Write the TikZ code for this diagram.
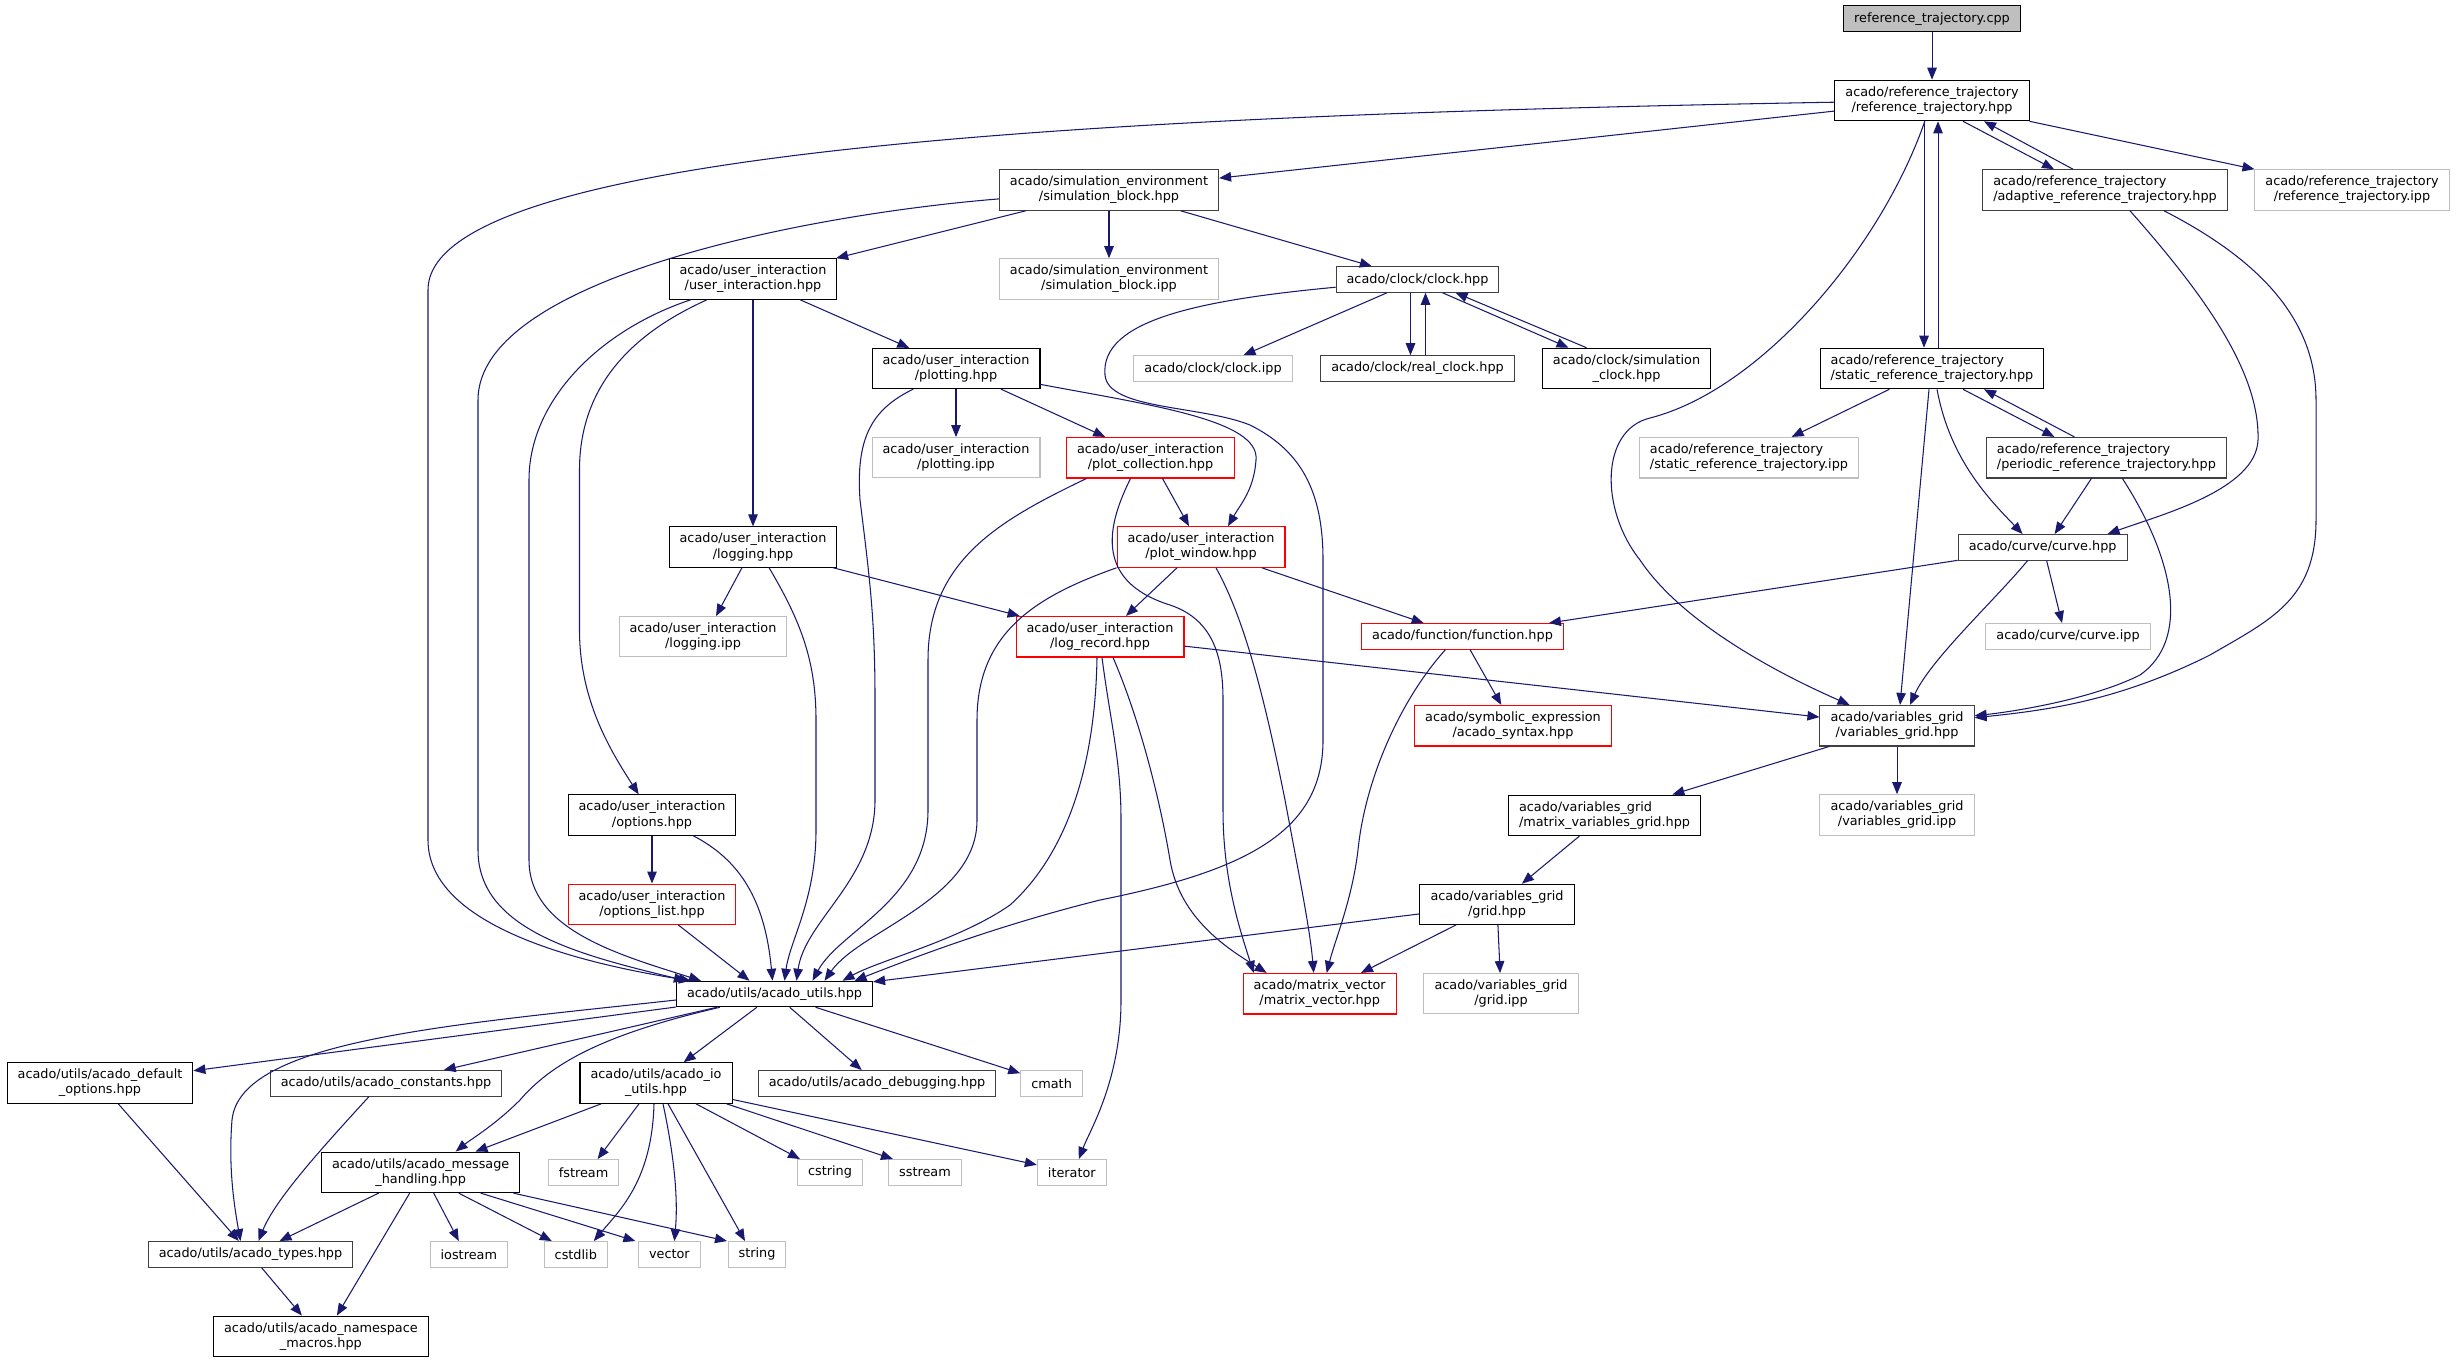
\documentclass[tikz,border=0pt]{standalone}
\usepackage{fontspec}
\setmainfont{DejaVu Sans}
\usepackage{xcolor}
\definecolor{dxedge}{RGB}{25,25,112}
\definecolor{dxgrey}{RGB}{191,191,191}
\definecolor{dxdark}{RGB}{64,64,64}
\definecolor{dxred}{RGB}{255,0,0}
\usetikzlibrary{arrows.meta, calc}

\begin{document}
\begin{tikzpicture}[
  x=0.02cm, y=-0.02cm,
  filebox/.style={rectangle, draw=black, fill=white, line width=0.6pt,
               font=\fontsize{7.3}{8.6}\selectfont, align=center,
               inner xsep=6pt, inner ysep=3.6pt, minimum height=14.5pt},
  dfilebox/.style={filebox, draw=dxdark},
  extbox/.style={filebox, draw=dxgrey},
  redbox/.style={filebox, draw=dxred},
  rootbox/.style={filebox, fill=dxgrey},
  arr/.style={-{Triangle[length=0.24cm, width=0.19cm]}, line width=0.6pt, color=dxedge}
]
  \useasboundingbox (0,0) rectangle (2456,1363);

  % files
  \node[rootbox] (root) at (1932,18.7) {reference\_trajectory.cpp};
  \node[filebox] (rt) at (1932,100.5) {acado/reference\_trajectory\\/reference\_trajectory.hpp};
  \node[dfilebox] (sb) at (1109,190) {acado/simulation\_environment\\/simulation\_block.hpp};
  \node[dfilebox, align=left] (ad) at (2105,190) {acado/reference\_trajectory\\/adaptive\_reference\_trajectory.hpp};
  \node[extbox] (rtipp) at (2352,190) {acado/reference\_trajectory\\/reference\_trajectory.ipp};
  \node[filebox] (ui) at (753,279) {acado/user\_interaction\\/user\_interaction.hpp};
  \node[extbox] (sbipp) at (1109,279) {acado/simulation\_environment\\/simulation\_block.ipp};
  \node[dfilebox] (cl) at (1417.5,279.5) {acado/clock/clock.hpp};
  \node[filebox] (pl) at (956,368.5) {acado/user\_interaction\\/plotting.hpp};
  \node[extbox] (clipp) at (1213,368.5) {acado/clock/clock.ipp};
  \node[dfilebox] (rcl) at (1417.5,368.5) {acado/clock/real\_clock.hpp};
  \node[filebox] (scl) at (1626.5,368.5) {acado/clock/simulation\\\_clock.hpp};
  \node[filebox, align=left] (srt) at (1932,368.5) {acado/reference\_trajectory\\/static\_reference\_trajectory.hpp};
  \node[extbox] (plipp) at (956,457.7) {acado/user\_interaction\\/plotting.ipp};
  \node[redbox] (pc) at (1150.5,457.7) {acado/user\_interaction\\/plot\_collection.hpp};
  \node[extbox, align=left] (srtipp) at (1749,457.7) {acado/reference\_trajectory\\/static\_reference\_trajectory.ipp};
  \node[dfilebox, align=left] (prt) at (2106.4,457.7) {acado/reference\_trajectory\\/periodic\_reference\_trajectory.hpp};
  \node[filebox] (lg) at (753,547) {acado/user\_interaction\\/logging.hpp};
  \node[redbox] (pw) at (1201,547) {acado/user\_interaction\\/plot\_window.hpp};
  \node[dfilebox] (cv) at (2042.6,547.3) {acado/curve/curve.hpp};
  \node[extbox] (lgipp) at (703,636.7) {acado/user\_interaction\\/logging.ipp};
  \node[redbox] (lr) at (1100,636.7) {acado/user\_interaction\\/log\_record.hpp};
  \node[redbox] (fn) at (1462.5,636.3) {acado/function/function.hpp};
  \node[extbox] (cvipp) at (2068,636.3) {acado/curve/curve.ipp};
  \node[redbox] (syn) at (1513,725.7) {acado/symbolic\_expression\\/acado\_syntax.hpp};
  \node[dfilebox] (vg) at (1897,725.7) {acado/variables\_grid\\/variables\_grid.hpp};
  \node[filebox] (op) at (652,815) {acado/user\_interaction\\/options.hpp};
  \node[filebox, align=left] (mvg) at (1604.5,815.3) {acado/variables\_grid\\/matrix\_variables\_grid.hpp};
  \node[extbox] (vgipp) at (1897,815) {acado/variables\_grid\\/variables\_grid.ipp};
  \node[redbox] (ol) at (652,904.3) {acado/user\_interaction\\/options\_list.hpp};
  \node[filebox] (gr) at (1497,904.3) {acado/variables\_grid\\/grid.hpp};
  \node[filebox] (au) at (774.5,994) {acado/utils/acado\_utils.hpp};
  \node[redbox] (mv) at (1319.7,993.7) {acado/matrix\_vector\\/matrix\_vector.hpp};
  \node[extbox] (gripp) at (1501,993.7) {acado/variables\_grid\\/grid.ipp};
  \node[filebox] (dopt) at (100,1083) {acado/utils/acado\_default\\\_options.hpp};
  \node[dfilebox] (cst) at (386,1083.3) {acado/utils/acado\_constants.hpp};
  \node[filebox] (io) at (656,1083) {acado/utils/acado\_io\\\_utils.hpp};
  \node[dfilebox] (dbg) at (877,1083.3) {acado/utils/acado\_debugging.hpp};
  \node[extbox] (cmath) at (1051.6,1083.3) {cmath};
  \node[filebox] (mh) at (420.7,1172.3) {acado/utils/acado\_message\\\_handling.hpp};
  \node[extbox] (fstr) at (583.6,1172.3) {fstream};
  \node[extbox] (cstr) at (830,1172.3) {cstring};
  \node[extbox] (sstr) at (925,1172.3) {sstream};
  \node[extbox] (iter) at (1071.8,1172.3) {iterator};
  \node[dfilebox] (at) at (250.5,1254.3) {acado/utils/acado\_types.hpp};
  \node[extbox] (iostr) at (468.8,1254.3) {iostream};
  \node[extbox] (cstd) at (575.8,1254.3) {cstdlib};
  \node[extbox] (vec) at (669.4,1254.3) {vector};
  \node[extbox] (str) at (757,1254.3) {string};
  \node[filebox] (nsm) at (320.9,1336.3) {acado/utils/acado\_namespace\\\_macros.hpp};

  % includes from the top files
  \draw[arr] (root) -- (rt);
  \draw[arr] (rt) .. controls (1100,115) and (428,150) .. (428,290) -- (428,840)
    .. controls (428,920) and (560,960) .. (au);
  \draw[arr] (rt) -- (sb);
  \draw[arr] (rt) .. controls (1880,250) and (1760,390) .. (1650,418)
    .. controls (1600,430) and (1600,510) .. (1640,560)
    .. controls (1680,620) and (1770,670) .. (vg);
  \draw[arr] ($(rt.south)+(-8,0)$) -- ($(srt.north)+(-8,0)$);
  \draw[arr] ($(srt.north)+(6,0)$) -- ($(rt.south)+(6,0)$);
  \draw[arr] ($(rt.south)+(31,0)$) -- ($(ad.north)+(-51,0)$);
  \draw[arr] ($(ad.north)+(-32,0)$) -- ($(rt.south)+(52,0)$);
  \draw[arr] (rt) -- (rtipp);

  \draw[arr] (sb) .. controls (800,215) and (478,280) .. (478,400) -- (478,850)
    .. controls (478,930) and (580,955) .. ($(au.north west)+(10,0)$);
  \draw[arr] (sb) -- (ui);
  \draw[arr] (sb) -- (sbipp);
  \draw[arr] (sb) -- (cl);

  \draw[arr] (cl) .. controls (1200,300) and (1100,320) .. (1105,375)
    .. controls (1108,410) and (1200,405) .. (1250,425)
    .. controls (1300,450) and (1323,490) .. (1323,560) -- (1323,740)
    .. controls (1323,830) and (1250,870) .. (1100,900)
    .. controls (1000,925) and (920,955) .. ($(au.north)+(80,0)$);
  \draw[arr] (cl) -- (clipp);
  \draw[arr] ($(cl.south)+(-7,0)$) -- ($(rcl.north)+(-7,0)$);
  \draw[arr] ($(rcl.north)+(8,0)$) -- ($(cl.south)+(8,0)$);
  \draw[arr] ($(cl.south)+(25,0)$) -- ($(scl.north)+(-58,0)$);
  \draw[arr] ($(scl.north)+(-40,0)$) -- ($(cl.south)+(38,0)$);

  % user interaction
  \draw[arr] (ui) .. controls (640,330) and (579.5,380) .. (579.5,470) -- (579.5,630)
    .. controls (579.5,700) and (610,750) .. (op);
  \draw[arr] (ui) .. controls (600,330) and (529,400) .. (529,480) -- (529,860)
    .. controls (529,930) and (620,955) .. ($(au.north west)+(25,0)$);
  \draw[arr] (ui) -- (lg);
  \draw[arr] (ui) -- (pl);

  \draw[arr] (pl) .. controls (870,410) and (856,440) .. (860,500)
    .. controls (870,580) and (875,620) .. (875,700) -- (875,800)
    .. controls (875,880) and (805,920) .. ($(au.north)+(22,0)$);
  \draw[arr] (pl) -- (plipp);
  \draw[arr] (pl) -- (pc);
  \draw[arr] (pl) .. controls (1150,405) and (1260,420) .. (1256,460)
    .. controls (1254,490) and (1240,505) .. ($(pw.north)+(27,0)$);

  \draw[arr] ($(pc.south)+(-64,0)$) .. controls (1000,520) and (928,560) .. (928,660) -- (928,810)
    .. controls (928,900) and (840,930) .. ($(au.north)+(38,0)$);
  \draw[arr] ($(pc.south)+(12,0)$) -- ($(pw.north)+(-12,0)$);
  \draw[arr] ($(pc.south)+(-20,0)$) .. controls (1110,520) and (1090,580) .. (1170,605)
    .. controls (1215,620) and (1223,660) .. (1223,700) -- (1223,810)
    .. controls (1223,880) and (1240,930) .. ($(mv.north)+(-66,0)$);

  \draw[arr] (pw.south west) .. controls (1040,595) and (977,630) .. (977,720) -- (977,820)
    .. controls (977,900) and (860,930) .. ($(au.north)+(50,0)$);
  \draw[arr] ($(pw.south)+(-24,0)$) -- ($(lr.north)+(26,0)$);
  \draw[arr] (pw) -- (fn);
  \draw[arr] ($(pw.south)+(15,0)$) .. controls (1245,620) and (1265,700) .. (1285,800)
    .. controls (1300,880) and (1310,930) .. ($(mv.north)+(-6,0)$);

  \draw[arr] ($(lg.south)+(16,0)$) .. controls (800,620) and (816,660) .. (816,720) -- (816,830)
    .. controls (816,900) and (790,940) .. ($(au.north)+(10,0)$);
  \draw[arr] ($(lg.south)+(-11,0)$) -- ($(lgipp.north)+(13,0)$);
  \draw[arr] (lg) -- (lr);

  \draw[arr] ($(lr.south)+(-3,0)$) .. controls (1095,780) and (1060,860) .. (1010,905)
    .. controls (960,940) and (880,960) .. ($(au.north)+(68,0)$);
  \draw[arr] ($(lr.south)+(2,0)$) .. controls (1110,720) and (1121,760) .. (1121,820) -- (1121,1000)
    .. controls (1121,1080) and (1090,1130) .. ($(iter.north)+(7,0)$);
  \draw[arr] ($(lr.south)+(13,0)$) .. controls (1140,720) and (1160,800) .. (1170,860)
    .. controls (1180,920) and (1230,950) .. ($(mv.north)+(-53,0)$);
  \draw[arr] (lr) -- (vg);

  \draw[arr] (fn) -- (syn);
  \draw[arr] ($(fn.south)+(-17,0)$) .. controls (1400,700) and (1365,780) .. (1358,850)
    .. controls (1352,900) and (1335,940) .. ($(mv.north)+(7,0)$);

  % trajectories and curve
  \draw[arr] (cv) -- (fn);
  \draw[arr] ($(cv.south)+(-15,0)$) .. controls (1995,600) and (1930,660) .. ($(vg.north)+(13,0)$);
  \draw[arr] ($(cv.south)+(4,0)$) -- ($(cvipp.north)+(-6,0)$);

  \draw[arr] (srt) -- (srtipp);
  \draw[arr] ($(srt.south)+(-3,0)$) -- ($(vg.north)+(3,0)$);
  \draw[arr] ($(srt.south)+(5,0)$) .. controls (1950,460) and (1990,500) .. ($(cv.north)+(-20,0)$);
  \draw[arr] ($(srt.south)+(31,0)$) -- ($(prt.north)+(-52,0)$);
  \draw[arr] ($(prt.north)+(-32,0)$) -- ($(srt.south)+(52,0)$);

  \draw[arr] ($(prt.south)+(-15,0)$) -- ($(cv.north)+(12,0)$);
  \draw[arr] ($(prt.south)+(16,0)$) .. controls (2175,560) and (2190,640) .. (2140,675)
    .. controls (2090,700) and (2010,712) .. ($(vg.east)+(0,-10)$);

  \draw[arr] ($(ad.south)+(25,0)$) .. controls (2200,290) and (2260,370) .. (2258,440)
    .. controls (2256,490) and (2160,515) .. ($(cv.north east)+(-20,0)$);
  \draw[arr] ($(ad.south)+(59,0)$) .. controls (2260,260) and (2316,320) .. (2316,400) -- (2316,520)
    .. controls (2316,600) and (2270,620) .. (2210,655)
    .. controls (2120,700) and (2050,710) .. ($(vg.east)+(0,-8)$);

  % grids
  \draw[arr] (vg) -- (mvg);
  \draw[arr] (vg) -- (vgipp);
  \draw[arr] (mvg) -- (gr);
  \draw[arr] (gr) -- (au);
  \draw[arr] (gr) -- (mv);
  \draw[arr] (gr) -- (gripp);

  % options
  \draw[arr] (op) -- (ol);
  \draw[arr] ($(op.south)+(41,0)$) .. controls (740,860) and (765,900) .. ($(au.north)+(-2,0)$);
  \draw[arr] (ol) -- ($(au.north)+(-25,0)$);

  % utils
  \draw[arr] (au) -- (dopt);
  \draw[arr] ($(au.west)+(0,6)$) .. controls (450,1025) and (240,1040) .. (232,1120)
    .. controls (228,1170) and (235,1210) .. ($(at.north)+(-10,0)$);
  \draw[arr] (au) -- (cst);
  \draw[arr] ($(au.south west)+(44,0)$) .. controls (600,1035) and (550,1065) .. (520,1100)
    .. controls (495,1125) and (470,1140) .. ($(mh.north)+(35,0)$);
  \draw[arr] (au) -- (io);
  \draw[arr] (au) -- (dbg);
  \draw[arr] (au) -- (cmath);

  \draw[arr] (dopt) -- (at);
  \draw[arr] ($(cst.south)+(-17,0)$) .. controls (320,1150) and (275,1200) .. ($(at.north)+(8,0)$);

  \draw[arr] (io) -- (mh);
  \draw[arr] ($(io.south)+(-17,0)$) -- ($(fstr.north)+(14,0)$);
  \draw[arr] ($(io.south)+(-2,0)$) .. controls (652,1180) and (620,1210) .. ($(cstd.north)+(18,0)$);
  \draw[arr] ($(io.south)+(7,0)$) .. controls (675,1160) and (678,1200) .. ($(vec.north)+(5,0)$);
  \draw[arr] ($(io.south)+(12,0)$) -- ($(str.north)+(-12,0)$);
  \draw[arr] ($(io.south)+(40,0)$) -- ($(cstr.north)+(-30,0)$);
  \draw[arr] ($(io.south east)+(-6,0)$) -- ($(sstr.north)+(-32,0)$);
  \draw[arr] (io) -- (iter);

  \draw[arr] ($(mh.south)+(-42,0)$) -- ($(at.north)+(29,0)$);
  \draw[arr] ($(mh.south)+(-11,0)$) -- ($(nsm.north)+(16,0)$);
  \draw[arr] ($(mh.south)+(13,0)$) -- ($(iostr.north)+(-10,0)$);
  \draw[arr] ($(mh.south)+(38,0)$) -- ($(cstd.north)+(-24,0)$);
  \draw[arr] ($(mh.south)+(60,0)$) -- ($(vec.north)+(-34,0)$);
  \draw[arr] ($(mh.south east)+(-7,0)$) -- ($(str.north)+(-30,0)$);

  \draw[arr] ($(at.south)+(11,0)$) -- ($(nsm.north)+(-19,0)$);
\end{tikzpicture}
\end{document}
